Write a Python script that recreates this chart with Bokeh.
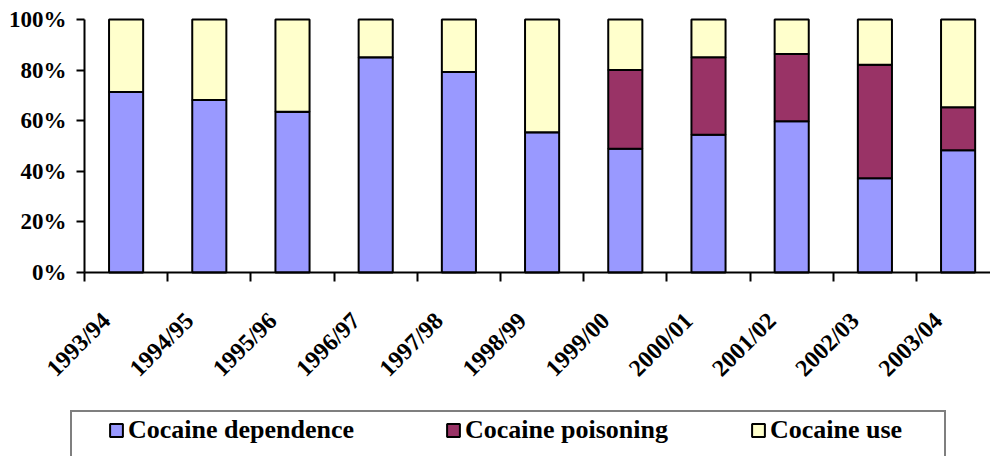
import math
from bokeh.plotting import figure
from bokeh.models import (Range1d, FixedTicker, Legend, LegendItem,
                          PrintfTickFormatter, ColumnDataSource)
from bokeh.embed import file_html
from bokeh.resources import INLINE

periods = ["1993/94", "1994/95", "1995/96", "1996/97", "1997/98", "1998/99",
           "1999/00", "2000/01", "2001/02", "2002/03", "2003/04"]
dependence = [71.3, 68.2, 63.5, 85.1, 79.2, 55.4, 48.9, 54.4, 59.8, 37.3, 48.3]
poisoning = [0.0, 0.0, 0.0, 0.0, 0.0, 0.0, 31.1, 30.7, 26.6, 44.8, 17.0]
use = [28.7, 31.8, 36.5, 14.9, 20.8, 44.6, 20.0, 14.9, 13.6, 17.9, 34.7]
series = ["Cocaine dependence", "Cocaine poisoning", "Cocaine use"]
colors = ["#9999FF", "#993366", "#FFFFCC"]
y_ticks = [0, 20, 40, 60, 80, 100]

FONT = "Liberation Serif"
W, H = 990, 456
# plot-area geometry (pixels) used to set the ranges
AX_LEFT, AX_TOP, AX_BOTTOM, SLOT = 84, 19, 272, 83.2
n = len(periods)
idx = list(range(n))
x0 = -0.5 - AX_LEFT / SLOT
x1 = -0.5 + (W - AX_LEFT) / SLOT
ppu = (AX_BOTTOM - AX_TOP) / 100.0
y0 = -(H - AX_BOTTOM) / ppu
y1 = 100 + AX_TOP / ppu

src = ColumnDataSource(dict(x=idx, dep=dependence, poi=poisoning, use=use))

p = figure(width=W, height=H, output_backend="svg", toolbar_location=None,
           x_range=Range1d(x0, x1), y_range=Range1d(y0, y1),
           min_border_left=0, min_border_top=0, min_border_right=0,
           min_border_bottom=0)
p.outline_line_color = None
p.xgrid.visible = False
p.ygrid.visible = False

rs = p.vbar_stack(["dep", "poi", "use"], x="x", width=0.41, source=src,
                  fill_color=colors, line_color="black", line_width=2)

# y axis
yax = p.yaxis[0]
yax.fixed_location = -0.5
yax.bounds = (0, 100)
yax.ticker = FixedTicker(ticks=y_ticks)
yax.formatter = PrintfTickFormatter(format="%d%%")
yax.axis_line_width = 2
yax.major_tick_line_width = 2
yax.major_tick_out = 8
yax.major_tick_in = 0
yax.minor_tick_line_color = None
yax.major_label_standoff = 10
yax.major_label_text_font = FONT
yax.major_label_text_font_style = "bold"
yax.major_label_text_font_size = "23px"
yax.major_label_text_color = "black"

# x axis: boundary ticks as minor ticks, labels slightly left of bar centre
xax = p.xaxis[0]
xax.fixed_location = 0
xax.bounds = (-0.5, x1)
bounds = [i - 0.5 for i in idx]
label_pos = [i - 0.24 for i in idx]
xax.ticker = FixedTicker(ticks=label_pos, minor_ticks=bounds)
xax.major_label_overrides = {pos: lab for pos, lab in zip(label_pos, periods)}
xax.axis_line_width = 2
xax.major_tick_line_color = None
xax.major_tick_out = 0
xax.major_tick_in = 0
xax.minor_tick_line_width = 2
xax.minor_tick_out = 9
xax.minor_tick_in = 0
xax.major_label_orientation = math.pi / 4
xax.major_label_standoff = 35
xax.major_label_text_font = FONT
xax.major_label_text_font_style = "bold"
xax.major_label_text_font_size = "24px"
xax.major_label_text_color = "black"

# legend frame (an empty, invisible item sized to the box)
blank = p.vbar(x=[], top=[], width=0.1, fill_alpha=0, line_alpha=0)
box = Legend(items=[LegendItem(label=" ", renderers=[blank])],
             location=(70, -9), padding=0, margin=0,
             glyph_width=16, glyph_height=16, label_standoff=0,
             label_width=856, label_height=51,
             border_line_color="black", border_line_width=2,
             background_fill_color="white", background_fill_alpha=1,
             label_text_alpha=0)
p.add_layout(box, "center")

# legend entries
glyph_x = [108, 445, 750]
for name, r, gx in zip(series, rs, glyph_x):
    leg = Legend(items=[LegendItem(label=name, renderers=[r])],
                 location=(gx, 11), border_line_color=None,
                 background_fill_alpha=0, padding=0, margin=0,
                 glyph_width=16, glyph_height=16, label_height=16,
                 label_standoff=4, label_text_font=FONT,
                 label_text_font_style="bold", label_text_font_size="26px",
                 label_text_color="black")
    p.add_layout(leg, "center")

open("out.html", "w").write(file_html(p, INLINE))
